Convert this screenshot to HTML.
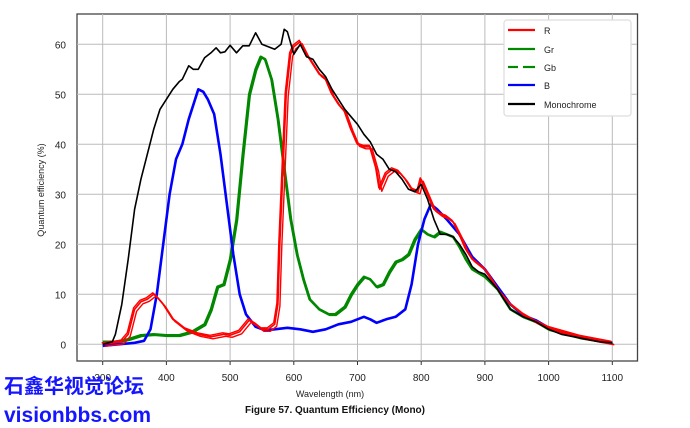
<!DOCTYPE html>
<html><head><meta charset="utf-8"><style>
html,body{margin:0;padding:0;background:#fff;width:690px;height:428px;overflow:hidden}
svg{display:block;font-family:"Liberation Sans",Arial,sans-serif}
</style></head><body>
<svg id="s" width="690" height="428" xmlns="http://www.w3.org/2000/svg">
<rect x="77" y="14" width="560.5" height="347" fill="#fff" stroke="#444" stroke-width="1.3"/>
<g id="grid" stroke="#bbb" stroke-width="1"></g>
<g id="tk" stroke="#333" stroke-width="1"></g>
<g id="lab" font-size="10" fill="#222"></g>
<g id="curves" fill="none" stroke-linejoin="round"></g>
<rect x="504" y="20" width="127" height="96" rx="3" fill="#fff" stroke="#ddd" stroke-width="1.2"/>
<g stroke-width="2.2">
<line x1="508" y1="30" x2="535" y2="30" stroke="#f00"/>
<line x1="508" y1="49" x2="535" y2="49" stroke="#080"/>
<line x1="508" y1="67" x2="518" y2="67" stroke="#080"/><line x1="523" y1="67" x2="535" y2="67" stroke="#080"/>
<line x1="508" y1="85" x2="535" y2="85" stroke="#00f"/>
<line x1="508" y1="104" x2="535" y2="104" stroke="#000"/>
</g>
<g font-size="9" fill="#222">
<text x="544" y="34">R</text><text x="544" y="53">Gr</text><text x="544" y="71">Gb</text><text x="544" y="89">B</text><text x="544" y="108">Monochrome</text>
</g>
<text x="44" y="190" font-size="9" fill="#222" text-anchor="middle" transform="rotate(-90 44 190)">Quantum efficiency (%)</text>
<text x="330" y="397" font-size="9" fill="#222" text-anchor="middle">Wavelength (nm)</text>
<text x="335" y="413" font-size="10" font-weight="bold" fill="#111" text-anchor="middle">Figure 57. Quantum Efficiency (Mono)</text>
<text x="4" y="393" font-size="20" font-weight="bold" fill="#1515ff" font-family="'Liberation Sans','Noto Sans CJK SC',sans-serif">石鑫华视觉论坛</text>
<text x="4" y="422" font-size="21" font-weight="bold" fill="#1515ff">visionbbs.com</text>
</svg>
<script>
var X=n=>102.7+(n-300)*0.637, Y=v=>344.3-v*5;
var ns="http://www.w3.org/2000/svg",g=document.getElementById('grid'),l=document.getElementById('lab'),tk=document.getElementById('tk');
function el(p,t,a){var e=document.createElementNS(ns,t);for(var k in a)e.setAttribute(k,a[k]);p.appendChild(e);return e}
for(var n=300;n<=1100;n+=100){el(g,'line',{x1:X(n),x2:X(n),y1:14,y2:361});el(tk,'line',{x1:X(n),x2:X(n),y1:361,y2:365});var t=el(l,'text',{x:X(n),y:381,'text-anchor':'middle'});t.textContent=n;}
for(var v=0;v<=60;v+=10){el(g,'line',{x1:77,x2:637,y1:Y(v),y2:Y(v)});var t=el(l,'text',{x:66,y:Y(v)+4,'text-anchor':'end'});t.textContent=v;}
var c=document.getElementById('curves');
function draw(d,col,w,dx,dy){var p=[];for(var i=0;i<d.length;i+=2)p.push((X(d[i])+(dx||0)).toFixed(1)+','+(Y(d[i+1])+(dy||0)).toFixed(1));el(c,'polyline',{points:p.join(' '),stroke:col,'stroke-width':w});}
var G=[300,.5,320,.5,340,1,360,1.8,380,2,400,1.8,420,1.8,440,2.5,460,4,470,7,480,11.5,490,12,500,17,510,25,520,38,530,50,540,55,548,57.5,555,57,565,53,575,45,585,35,595,25,605,18,615,13,625,9,640,7,655,6,665,6,680,7.5,690,10,700,12,710,13.5,720,13,730,11.5,740,12,750,14.5,760,16.5,770,17,780,18,790,21,800,23,810,22,820,21.5,830,22.5,840,22,850,21.5,860,19.5,870,17,880,15,900,13.5,920,11,940,7,960,5.5,980,4.5,1000,3,1050,1.3,1100,.3];
var B=[300,-.3,350,.3,365,.7,375,3,385,10,395,20,405,30,415,37,425,40,435,45,445,49,450,51,458,50.5,465,49,475,46,485,38,495,28,505,18,515,10,525,6,540,3.5,555,2.8,570,3,590,3.3,610,3,630,2.5,650,3,670,4,690,4.5,710,5.5,720,5,730,4.3,745,5,760,5.5,775,7,785,12,795,20,805,25,815,28,825,27,840,25,860,22,880,17.5,900,15,920,11.5,940,8,960,5.8,980,4.8,1000,3.3,1050,1.5,1100,.3];
var R=[300,0,330,.5,340,2,350,7,360,8.5,370,9,380,10,385,9.5,395,8,410,5,430,3,450,2,470,1.5,490,2,500,1.8,515,2.5,530,4.8,540,4,550,3,560,3,570,4,575,8,578,20,583,35,588,50,595,58,600,59.5,610,60.5,620,58,640,54,650,53,660,50,670,48,680,46.5,690,43,700,40,710,39.5,720,39.5,730,35,735,31,745,34,755,35,765,34.5,775,33,785,31,795,30.5,800,33,810,30,820,27,830,26,840,25.5,850,24.5,860,22,870,19,880,17,890,16,900,15,920,11,940,8,960,6,980,4.5,1000,3.3,1050,1.5,1100,.3];
var M=[300,0,315,.5,320,2,330,8,340,17,350,27,360,33,370,38,380,43,390,47,400,49,410,51,420,52.5,425,53,435,55.7,442,55,450,55,460,57.3,470,58.3,478,59.3,485,58.3,492,58.5,500,59.8,510,58.3,520,59.7,530,59.7,540,62.3,550,60,560,59.5,570,59,580,60,585,63,590,62.5,600,58,610,60,620,57.5,630,57,640,55,650,53.5,660,51,670,49,680,47,690,45.5,700,44,710,42,720,40.5,730,38,740,37,750,35,760,34.5,770,33,780,31,790,30.5,800,32,810,29,820,25,830,22,840,22,850,21.5,860,20,870,18,880,15.5,890,14.5,900,14,920,11,940,7,960,5.5,980,4.5,1000,3,1020,2,1040,1.5,1060,1,1080,.5,1100,.3];
draw(G,'#080',2.6);draw(G,'#080',1.6,1,1);
draw(B,'#00f',2.6);
draw(R,'#f00',1.6);draw(R,'#f00',1.4,2,2);draw(R,'#f00',1.4,-1,-1.5);
draw(M,'#000',1.6);
</script>
</body></html>
